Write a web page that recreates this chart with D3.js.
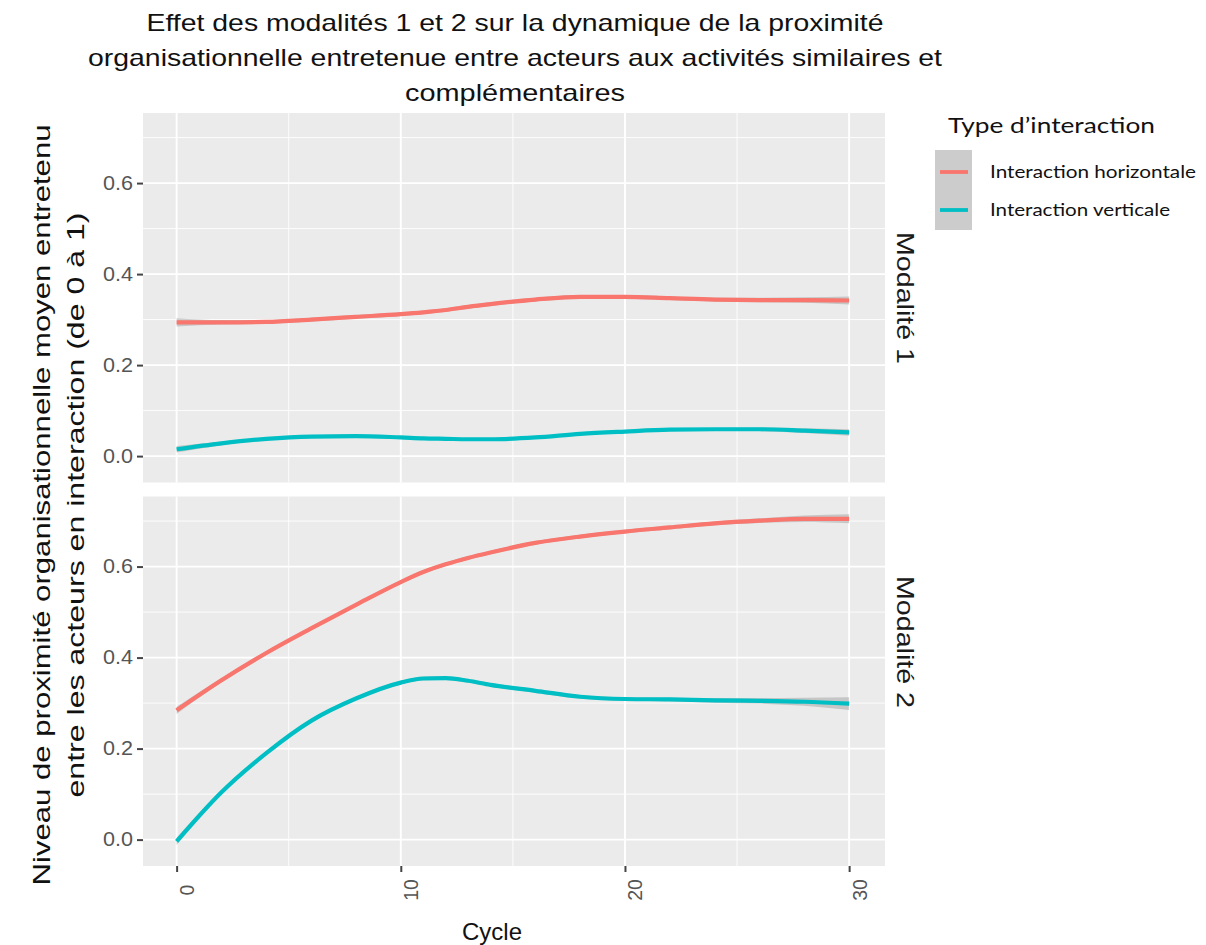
<!DOCTYPE html>
<html>
<head>
<meta charset="utf-8">
<script src="https://cdn.jsdelivr.net/npm/d3@7"></script>
<style>
  html, body { margin: 0; padding: 0; background: #fff; }
  svg { display: block; }
</style>
</head>
<body>
<svg id="chart" width="1206" height="945"></svg>
<script>
// ---------- data ----------
const cycles = [0, 2, 4, 6, 8, 10, 11, 12, 13, 14, 16, 18, 20, 22, 24, 26, 28, 30];

const modalites = ["Modalité 1", "Modalité 2"];
const interactions = ["Interaction horizontale", "Interaction verticale"];

const m1Horizontale = [0.294, 0.294, 0.295, 0.300, 0.306, 0.312, 0.316, 0.321, 0.328, 0.334, 0.344, 0.350, 0.350, 0.347, 0.344, 0.343, 0.343, 0.342];
const m1Verticale   = [0.015, 0.028, 0.038, 0.043, 0.044, 0.041, 0.039, 0.038, 0.037, 0.037, 0.041, 0.049, 0.054, 0.058, 0.059, 0.059, 0.056, 0.052];
const m2Horizontale = [0.284, 0.350, 0.410, 0.464, 0.516, 0.566, 0.588, 0.605, 0.619, 0.631, 0.652, 0.666, 0.677, 0.686, 0.695, 0.701, 0.705, 0.705];
const m2Verticale   = [-0.004, 0.104, 0.190, 0.261, 0.310, 0.345, 0.354, 0.355, 0.349, 0.340, 0.327, 0.314, 0.309, 0.308, 0.306, 0.305, 0.303, 0.299];

// half-width of the grey confidence band
const seM1Horizontale = [0.009, 0.005, 0.004, 0.004, 0.004, 0.004, 0.004, 0.004, 0.004, 0.004, 0.004, 0.004, 0.004, 0.004, 0.004, 0.005, 0.006, 0.009];
const seM1Verticale   = [0.007, 0.004, 0.003, 0.003, 0.003, 0.003, 0.003, 0.003, 0.003, 0.003, 0.003, 0.003, 0.003, 0.003, 0.003, 0.004, 0.005, 0.007];
const seM2Horizontale = [0.008, 0.005, 0.004, 0.004, 0.004, 0.004, 0.004, 0.004, 0.004, 0.004, 0.004, 0.004, 0.004, 0.004, 0.004, 0.005, 0.007, 0.010];
const seM2Verticale   = [0.008, 0.005, 0.004, 0.004, 0.004, 0.004, 0.004, 0.004, 0.004, 0.004, 0.004, 0.004, 0.004, 0.004, 0.005, 0.006, 0.009, 0.014];

const xTicks = [0, 10, 20, 30];
const xMinor = [5, 15, 25];
const yTicks = [0.0, 0.2, 0.4, 0.6];
const yMinor = [0.1, 0.3, 0.5, 0.7];

const titleLines = [
  "Effet des modalités 1 et 2 sur la dynamique de la proximité",
  "organisationnelle entretenue entre acteurs aux activités similaires et",
  "complémentaires"
];
const yLabelLines = [
  "Niveau de proximité organisationnelle moyen entretenu",
  "entre les acteurs en interaction (de 0 à 1)"
];
const xLabel = "Cycle";
const legendTitle = "Type d’interaction";

const colors = ["#F8766D", "#00BFC4"];

const panelsData = [
  { name: modalites[0], series: [
    { key: interactions[0], values: m1Horizontale, se: seM1Horizontale },
    { key: interactions[1], values: m1Verticale, se: seM1Verticale } ] },
  { name: modalites[1], series: [
    { key: interactions[0], values: m2Horizontale, se: seM2Horizontale },
    { key: interactions[1], values: m2Verticale, se: seM2Verticale } ] }
];

// ---------- layout ----------
const svg = d3.select("#chart");
const left = 143, right = 885;
const panelTops = [113, 496.5];
const panelH = 369.5;
const stripCenters = [298, 642];

const x = d3.scaleLinear().domain([-1.5, 31.6]).range([left, right]);
const color = d3.scaleOrdinal().domain(interactions).range(colors);

const FONT = "'Liberation Sans', Arial, sans-serif";

panelsData.forEach((p, i) => {
  const top = panelTops[i];
  const y = d3.scaleLinear().domain([-0.058, 0.754]).range([top + panelH, top]);
  const g = svg.append("g");

  g.append("rect").attr("x", left).attr("y", top).attr("width", right - left).attr("height", panelH).attr("fill", "#EBEBEB");

  // minor grid
  g.selectAll(".ymin").data(yMinor).join("line")
    .attr("x1", left).attr("x2", right).attr("y1", d => y(d)).attr("y2", d => y(d))
    .attr("stroke", "#fff").attr("stroke-width", 0.9);
  g.selectAll(".xmin").data(xMinor).join("line")
    .attr("y1", top).attr("y2", top + panelH).attr("x1", d => x(d)).attr("x2", d => x(d))
    .attr("stroke", "#fff").attr("stroke-width", 0.9);
  // major grid
  g.selectAll(".ymaj").data(yTicks).join("line")
    .attr("x1", left).attr("x2", right).attr("y1", d => y(d)).attr("y2", d => y(d))
    .attr("stroke", "#fff").attr("stroke-width", 1.9);
  g.selectAll(".xmaj").data(xTicks).join("line")
    .attr("y1", top).attr("y2", top + panelH).attr("x1", d => x(d)).attr("x2", d => x(d))
    .attr("stroke", "#fff").attr("stroke-width", 1.9);

  // y axis
  const yAxis = d3.axisLeft(y).tickValues(yTicks).tickFormat(d3.format(".1f")).tickSize(6).tickPadding(4);
  const ya = g.append("g").attr("transform", `translate(${left},0)`).call(yAxis);
  ya.select(".domain").remove();
  ya.selectAll(".tick line").attr("stroke", "#444").attr("stroke-width", 2);
  ya.selectAll(".tick text").attr("fill", "#555").style("font-family", FONT).style("font-size", "19.5px")
    .attr("textLength", 30).attr("lengthAdjust", "spacingAndGlyphs");

  // series
  p.series.forEach(s => {
    const pts = cycles.map((c, k) => ({ c, v: s.values[k], se: s.se[k] }));
    const area = d3.area().x(d => x(d.c)).y0(d => y(d.v - d.se)).y1(d => y(d.v + d.se)).curve(d3.curveMonotoneX);
    g.append("path").datum(pts).attr("d", area).attr("fill", "#999").attr("opacity", 0.45);
    const line = d3.line().x(d => x(d.c)).y(d => y(d.v)).curve(d3.curveMonotoneX);
    g.append("path").datum(pts).attr("d", line).attr("fill", "none")
      .attr("stroke", color(s.key)).attr("stroke-width", 4.2).attr("stroke-linecap", "butt");
  });

  // strip label
  g.append("text").attr("transform", `translate(897,${stripCenters[i]}) rotate(90)`)
    .attr("text-anchor", "middle").style("font-family", FONT).style("font-size", "24px")
    .attr("fill", "#1a1a1a").attr("textLength", 132).attr("lengthAdjust", "spacingAndGlyphs").text(p.name);
});

// x axis (bottom of panel 2)
const bottom = panelTops[1] + panelH;
const xAxis = d3.axisBottom(x).tickValues(xTicks).tickSize(6).tickFormat(d => d);
const xa = svg.append("g").attr("transform", `translate(0,${bottom})`).call(xAxis);
xa.select(".domain").remove();
xa.selectAll(".tick line").attr("stroke", "#444").attr("stroke-width", 2);
xa.selectAll(".tick text")
  .attr("y", 0).attr("dy", null)
  .attr("transform", "translate(17,24) rotate(-90)")
  .attr("text-anchor", "middle")
  .attr("fill", "#555").style("font-family", FONT).style("font-size", "19.5px");

// title
const titleY = [31, 66, 101];
const titleW = [737, 854, 220];
titleLines.forEach((t, i) => {
  svg.append("text").attr("x", 515).attr("y", titleY[i]).attr("text-anchor", "middle")
    .style("font-family", FONT).style("font-size", "24px").attr("fill", "#111")
    .attr("textLength", titleW[i]).attr("lengthAdjust", "spacingAndGlyphs")
    .text(t);
});

// y label
const yLabX = [50, 84];
const yLabW = [761, 585];
yLabelLines.forEach((t, i) => {
  svg.append("text").attr("transform", `translate(${yLabX[i]},505) rotate(-90)`)
    .attr("text-anchor", "middle").style("font-family", FONT).style("font-size", "24px").attr("fill", "#111")
    .attr("textLength", yLabW[i]).attr("lengthAdjust", "spacingAndGlyphs")
    .text(t);
});

// x label
svg.append("text").attr("x", 492).attr("y", 940).attr("text-anchor", "middle")
  .style("font-family", FONT).style("font-size", "24px").attr("fill", "#111").text(xLabel);

// legend
const LFONT = "Lato, 'Open Sans', sans-serif";
svg.append("text").attr("x", 948).attr("y", 133)
  .style("font-family", LFONT).style("font-size", "22px").attr("fill", "#111")
  .attr("textLength", 207).attr("lengthAdjust", "spacingAndGlyphs").text(legendTitle);
svg.append("rect").attr("x", 935).attr("y", 150).attr("width", 37).attr("height", 80).attr("fill", "#cccccc");
const legY = [172, 210];
const legW = [206, 180];
interactions.forEach((k, i) => {
  svg.append("line").attr("x1", 940).attr("x2", 968).attr("y1", legY[i]).attr("y2", legY[i])
    .attr("stroke", color(k)).attr("stroke-width", 3.8);
  svg.append("text").attr("x", 990).attr("y", legY[i] + 6)
    .style("font-family", LFONT).style("font-size", "17px").attr("fill", "#111")
    .attr("textLength", legW[i]).attr("lengthAdjust", "spacingAndGlyphs").text(k);
});
</script>
</body>
</html>
